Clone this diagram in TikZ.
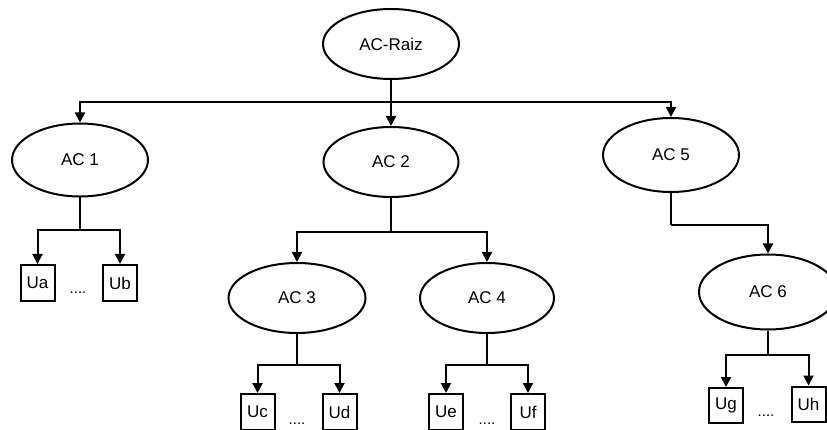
\documentclass[tikz,border=0pt]{standalone}
\usepackage{fontspec}
\setmainfont{Liberation Sans}
\usetikzlibrary{shapes.geometric,arrows.meta}
\begin{document}
\begin{tikzpicture}[x=1pt,y=-1pt,
  line width=2pt,
  ca/.style={ellipse,draw,inner sep=0pt,minimum width=136pt,minimum height=72pt,font=\fontsize{17}{20}\selectfont},
  ub/.style={rectangle,draw,inner sep=0pt,minimum width=34pt,minimum height=36pt,font=\fontsize{17}{20}\selectfont},
  dots/.style={inner sep=0pt,font=\fontsize{15}{18}\selectfont},
  arr/.style={-{Triangle[length=10pt,width=10pt]}}]
\useasboundingbox (0,0) rectangle (827,430);
% nodes
\node[ca,minimum height=70pt] (root) at (391,44) {AC-Raiz};
\node[ca,minimum height=73pt] (ac1) at (80,160) {AC 1};
\node[ca,minimum width=135pt,minimum height=70pt] (ac2) at (391,162) {AC 2};
\node[ca,minimum height=74pt] (ac5) at (671,155) {AC 5};
\node[ca,minimum width=137pt,minimum height=70pt] (ac3) at (297,298) {AC 3};
\node[ca,minimum width=134pt,minimum height=70pt] (ac4) at (487,298) {AC 4};
\node[ca,minimum width=138pt,minimum height=75pt] (ac6) at (768,292) {AC 6};
\node[ub] (ua) at (37.5,283) {Ua};
\node[ub] (ubb) at (120,283) {Ub};
\node[dots] (d1) at (78,293) {....};
\node[ub] (uc) at (257.5,412) {Uc};
\node[ub] (ud) at (339.5,412) {Ud};
\node[dots] (d3) at (297,424) {....};
\node[ub] (ue) at (446,412) {Ue};
\node[ub] (uf) at (528,412) {Uf};
\node[dots] (d4) at (487,424) {....};
\node[ub,minimum height=35pt] (ug) at (726,405.5) {Ug};
\node[ub,minimum height=35pt] (uh) at (808.5,404) {Uh};
\node[dots] (d6) at (766,416) {....};
% junctions
\coordinate (j0) at (391,102);
\coordinate (j1) at (80,230);
\coordinate (j2) at (391,232);
\coordinate (j3) at (297,365);
\coordinate (j4) at (487,365);
\coordinate (j5) at (671,225);
\coordinate (j6) at (768,355);
% connectors
\draw[arr] (root.south) -- (ac2.north);
\draw[arr] (j0) -| (ac1.north);
\draw[arr] (j0) -| (ac5.north);
\draw (ac1.south) -- (j1);
\draw[arr] (j1) -| (ua.north);
\draw[arr] (j1) -| (ubb.north);
\draw (ac2.south) -- (j2);
\draw[arr] (j2) -| (ac3.north);
\draw[arr] (j2) -| (ac4.north);
\draw (ac3.south) -- (j3);
\draw[arr] (j3) -| (uc.north);
\draw[arr] (j3) -| (ud.north);
\draw (ac4.south) -- (j4);
\draw[arr] (j4) -| (ue.north);
\draw[arr] (j4) -| (uf.north);
\draw (ac5.south) -- (j5);
\draw[arr] (j5) -| (ac6.north);
\draw (ac6.south) -- (j6);
\draw[arr] (j6) -| (ug.north);
\draw[arr] (j6) -| (uh.north);
\end{tikzpicture}
\end{document}
